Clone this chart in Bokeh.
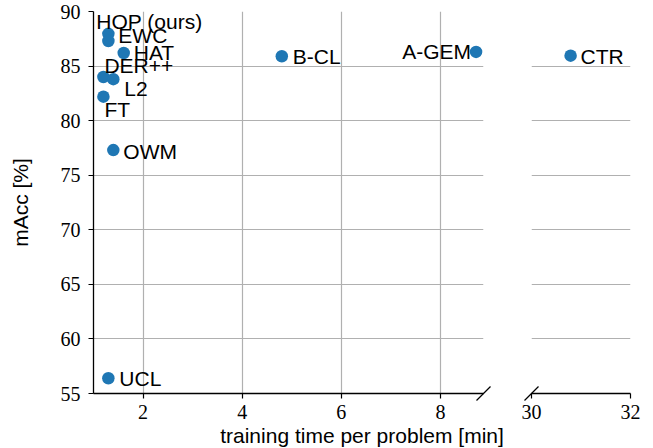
from bokeh.plotting import figure
from bokeh.layouts import row
from bokeh.models import FixedTicker, ColumnDataSource
from bokeh.core.properties import value
from bokeh.embed import file_html
from bokeh.resources import INLINE

# ---------------- data ----------------
methods = ["HOP (ours)", "EWC", "HAT", "DER++", "L2", "FT", "OWM", "UCL", "B-CL", "A-GEM", "CTR"]
train_time = [1.30, 1.30, 1.61, 1.20, 1.40, 1.20, 1.40, 1.30, 4.80, 8.72, 30.79]
macc = [87.95, 87.3, 86.2, 84.0, 83.8, 82.2, 77.3, 56.4, 85.9, 86.3, 85.95]

left_xticks = [2, 4, 6, 8]
right_xticks = [30, 32]
yticks = [55, 60, 65, 70, 75, 80, 85, 90]

# ---------------- styling / layout (not data) ----------------
label_dx = [-12, 10, 10, 1, 11, 1, 10, 11, 11, -5, 10]
label_dy = [-12, -5, 0, -11, 9, 13, 1, 0, 0, 0, 1]
label_align = ["left", "left", "left", "left", "left", "left", "left", "left", "left", "right", "left"]

XL = (1.0, 8.87)
XR = (30.0, 32.0)
YR = (55.0, 90.0)
BREAK = 20.0

FRAME_H = 382
FRAME_WL = 390
FRAME_WR = 99
LEFT = 93
GAP_L = 34
GAP_R = 14
RIGHT = 15
TOP = 11
H = 448
BOTTOM = H - TOP - FRAME_H

COLOR = "#1f77b4"
GRID = "#b0b0b0"
SANS = "Liberation Sans"
SERIF = "Liberation Serif"


def make_src(keep):
    idx = [i for i, x in enumerate(train_time) if keep(x)]
    return ColumnDataSource(dict(
        x=[train_time[i] for i in idx],
        y=[macc[i] for i in idx],
        t=[methods[i] for i in idx],
        dx=[label_dx[i] for i in idx],
        dy=[label_dy[i] for i in idx],
        al=[label_align[i] for i in idx],
    ))


def style(p, xticks):
    p.outline_line_color = None
    p.background_fill_color = "white"
    p.border_fill_color = "white"
    p.xaxis.ticker = FixedTicker(ticks=xticks)
    p.yaxis.ticker = FixedTicker(ticks=yticks)
    p.xgrid.ticker = FixedTicker(ticks=xticks)
    p.ygrid.ticker = FixedTicker(ticks=yticks)
    for g in (p.xgrid, p.ygrid):
        g.grid_line_color = GRID
        g.grid_line_width = 1.2
    for ax in (p.xaxis, p.yaxis):
        ax.axis_line_color = "black"
        ax.axis_line_width = 1.3
        ax.major_tick_line_color = "black"
        ax.major_tick_line_width = 1.2
        ax.major_tick_out = 5
        ax.major_tick_in = 0
        ax.minor_tick_line_color = None
        ax.major_label_text_font = SERIF
        ax.major_label_text_font_size = "20px"
        ax.major_label_text_color = "black"
    p.xaxis.major_label_standoff = 6
    p.yaxis.major_label_standoff = 8


def draw(p, src):
    p.scatter("x", "y", source=src, size=12.5, color=COLOR, line_color=None)
    p.text("x", "y", text="t", source=src, x_offset="dx", y_offset="dy",
           text_align="al", text_baseline="alphabetic",
           text_font=value(SANS), text_font_size="21px", text_color="black")


def break_mark(p, x, xr, frame_w):
    half = 7
    dx = half * (xr[1] - xr[0]) / frame_w
    dy = half * (YR[1] - YR[0]) / FRAME_H
    r = p.segment(x0=[x - dx], y0=[YR[0] - dy], x1=[x + dx], y1=[YR[0] + dy],
                  line_color="black", line_width=1.3)
    r.level = "overlay"


p1 = figure(width=LEFT + FRAME_WL + GAP_L, height=H, x_range=XL, y_range=YR,
            output_backend="svg", toolbar_location=None,
            min_border_left=LEFT, min_border_right=GAP_L, min_border_top=TOP,
            min_border_bottom=BOTTOM)
style(p1, left_xticks)
p1.yaxis.axis_label = "mAcc [%]"
p1.yaxis.axis_label_text_font = SANS
p1.yaxis.axis_label_text_font_size = "21px"
p1.yaxis.axis_label_text_font_style = "normal"
p1.yaxis.axis_label_text_color = "black"
p1.yaxis.axis_label_standoff = 26
draw(p1, make_src(lambda x: x < BREAK))
break_mark(p1, XL[1], XL, FRAME_WL)

p2 = figure(width=GAP_R + FRAME_WR + RIGHT, height=H, x_range=XR, y_range=YR,
            output_backend="svg", toolbar_location=None,
            min_border_left=GAP_R, min_border_right=RIGHT, min_border_top=TOP,
            min_border_bottom=BOTTOM)
style(p2, right_xticks)
p2.yaxis.visible = False
draw(p2, make_src(lambda x: x >= BREAK))
break_mark(p2, XR[0], XR, FRAME_WR)

# shared x-axis label centred under both panels (drawn as an unclipped overlay text)
total_frame_span = FRAME_WL + GAP_L + GAP_R + FRAME_WR
center_px = total_frame_span / 2.0
lab_x = XL[0] + center_px * (XL[1] - XL[0]) / FRAME_WL
lab_y = YR[0] - 30 * (YR[1] - YR[0]) / FRAME_H
xl = p1.text(x=[lab_x], y=[lab_y], text=["training time per problem [min]"],
             text_align="center", text_baseline="top",
             text_font=value(SANS), text_font_size="21px", text_color="black")
xl.level = "overlay"

layout = row(p1, p2)

with open("out.html", "w") as f:
    f.write(file_html(layout, INLINE))
